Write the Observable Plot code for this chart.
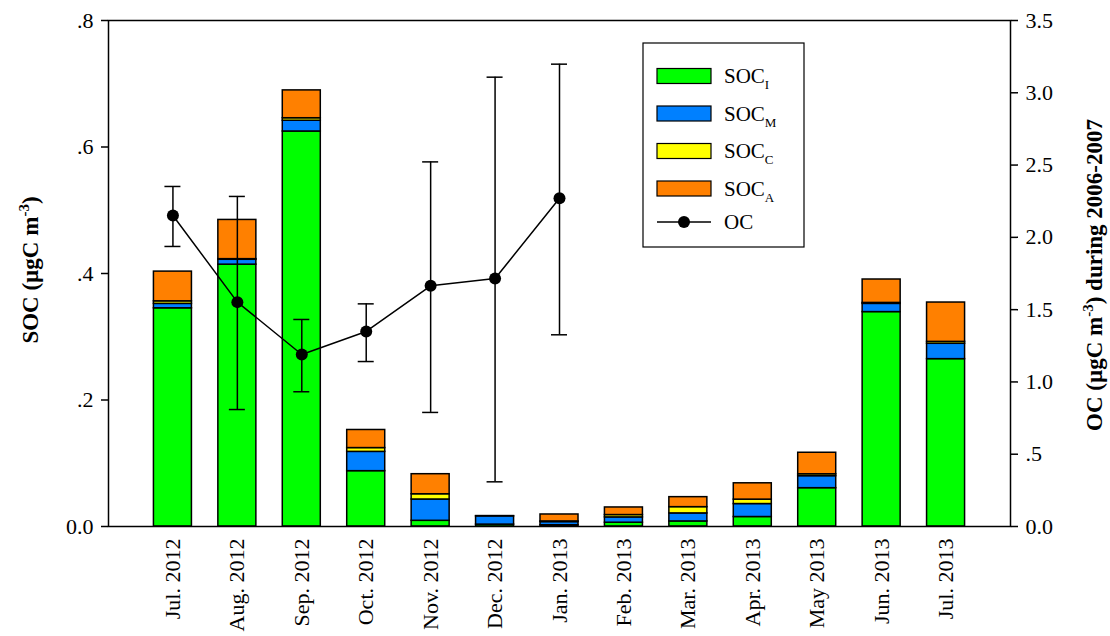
<!DOCTYPE html>
<html><head><meta charset="utf-8">
<script src="https://cdn.jsdelivr.net/npm/d3@7"></script>
<script src="https://cdn.jsdelivr.net/npm/@observablehq/plot@0.6"></script>
<style>body{margin:0;background:#fff} #chart svg{display:block}</style>
</head><body><div id="chart"></div>
<script>
const months = ["Jul. 2012","Aug. 2012","Sep. 2012","Oct. 2012","Nov. 2012","Dec. 2012","Jan. 2013","Feb. 2013","Mar. 2013","Apr. 2013","May 2013","Jun. 2013","Jul. 2013"];
const socI = [0.345, 0.414, 0.6245, 0.0875, 0.009, 0.003, 0.002, 0.006, 0.008, 0.015, 0.0606, 0.339, 0.2646];
const socM = [0.007, 0.0077, 0.017, 0.0305, 0.0337, 0.013, 0.005, 0.0084, 0.0127, 0.0205, 0.019, 0.013, 0.0243];
const socC = [0.004, 0.001, 0.004, 0.006, 0.0083, 0.0005, 0.001, 0.0037, 0.0099, 0.007, 0.003, 0.0015, 0.003];
const socA = [0.047, 0.062, 0.044, 0.0286, 0.0317, 0.0, 0.011, 0.012, 0.0158, 0.0258, 0.034, 0.037, 0.0622];
const comps = ["SOC_I","SOC_M","SOC_C","SOC_A"];
const compColors = ["#00ff00","#0080ff","#ffff00","#ff8000"];
const ocMonths = ["Jul. 2012","Aug. 2012","Sep. 2012","Oct. 2012","Nov. 2012","Dec. 2012","Jan. 2013"];
const oc   = [2.151, 1.552, 1.190, 1.349, 1.665, 1.715, 2.271];
const ocHi = [2.352, 2.283, 1.432, 1.540, 2.522, 3.108, 3.198];
const ocLo = [1.937, 0.809, 0.932, 1.141, 0.789, 0.309, 1.326];
const leftTicks = [0, 0.2, 0.4, 0.6, 0.8];
const rightTicks = [0, 0.5, 1.0, 1.5, 2.0, 2.5, 3.0, 3.5];

const k = 0.8 / 3.5; // right-axis units -> left-axis units
const series = [socI, socM, socC, socA];
const barRows = [];
months.forEach((m, i) => series.forEach((s, j) => barRows.push({month: m, comp: comps[j], value: s[i]})));
const ocRows = ocMonths.map((m, i) => ({month: m, oc: oc[i], hi: ocHi[i], lo: ocLo[i]}));
const fmt = d => { const v = Math.round(d * 10) / 10; return v === 0 ? "0.0" : d3.format(".1f")(v).replace(/^0\./, "."); };

const plot = Plot.plot({
  width: 1110, height: 636,
  marginLeft: 108, marginRight: 100, marginTop: 20, marginBottom: 110,
  style: {fontFamily: "Liberation Serif", fontSize: "22px", color: "#000", background: "#fff", overflow: "visible"},
  x: {domain: months, paddingInner: 0.41, paddingOuter: 0.705, round: false, label: null},
  y: {domain: [0, 0.8], label: null},
  color: {domain: comps, range: compColors},
  marks: [
    Plot.barY(barRows, {x: "month", y: "value", fill: "comp", stroke: "#000", strokeWidth: 1.5}),
    Plot.ruleX(ocRows, {x: "month", y1: d => d.lo * k, y2: d => d.hi * k, stroke: "#000", strokeWidth: 1.5}),
    Plot.tickY(ocRows, {x: "month", y: d => d.hi * k, insetLeft: 11, insetRight: 11, stroke: "#000", strokeWidth: 1.5}),
    Plot.tickY(ocRows, {x: "month", y: d => d.lo * k, insetLeft: 11, insetRight: 11, stroke: "#000", strokeWidth: 1.5}),
    Plot.line(ocRows, {x: "month", y: d => d.oc * k, stroke: "#000", strokeWidth: 1.5}),
    Plot.dot(ocRows, {x: "month", y: d => d.oc * k, r: 6, fill: "#000"}),
    Plot.frame({stroke: "#000", strokeWidth: 1.5}),
    Plot.axisY(leftTicks, {anchor: "left", tickSize: 7, tickPadding: 8, tickFormat: fmt, label: null, strokeWidth: 1.5}),
    Plot.axisY(rightTicks.map(v => v * k), {anchor: "right", tickSize: 7, tickPadding: 8, tickFormat: d => fmt(d / k), label: null, strokeWidth: 1.5}),
    Plot.axisX({tickRotate: -90, tickSize: 0, tickPadding: 12, label: null})
  ]
});

const svg = d3.select(plot);
// Axis titles
const t1 = svg.append("text").attr("transform", "translate(38,270) rotate(-90)")
  .attr("text-anchor", "middle").attr("font-weight", "bold").attr("font-size", 23).attr("fill", "#000");
t1.append("tspan").text("SOC (\u00b5gC m");
t1.append("tspan").attr("dy", -9).attr("font-size", 15).text("-3");
t1.append("tspan").attr("dy", 9).text(")");
const t2 = svg.append("text").attr("transform", "translate(1102,275) rotate(-90)")
  .attr("text-anchor", "middle").attr("font-weight", "bold").attr("font-size", 23).attr("fill", "#000");
t2.append("tspan").text("OC (\u00b5gC m");
t2.append("tspan").attr("dy", -9).attr("font-size", 15).text("-3");
t2.append("tspan").attr("dy", 9).text(") during 2006-2007");

// Legend
const lg = svg.append("g").attr("font-family", "Liberation Serif").attr("fill", "#000").attr("text-anchor", "start");
lg.append("rect").attr("x", 643).attr("y", 43).attr("width", 161).attr("height", 204)
  .attr("fill", "#fff").attr("stroke", "#000").attr("stroke-width", 1.2);
const subs = ["I", "M", "C", "A"];
const rowY = [76, 113.5, 151, 188.5, 222];
comps.forEach((c, i) => {
  lg.append("rect").attr("x", 657).attr("y", rowY[i] - 7.5).attr("width", 54).attr("height", 15)
    .attr("fill", compColors[i]).attr("stroke", "#000").attr("stroke-width", 1.2);
  const tx = lg.append("text").attr("x", 724).attr("y", rowY[i] + 7).attr("font-size", 21).attr("text-anchor", "start");
  tx.append("tspan").text("SOC");
  tx.append("tspan").attr("dy", 6).attr("font-size", 13).text(subs[i]);
});
lg.append("line").attr("x1", 657).attr("x2", 711).attr("y1", rowY[4]).attr("y2", rowY[4]).attr("stroke", "#000").attr("stroke-width", 1.5);
lg.append("circle").attr("cx", 684).attr("cy", rowY[4]).attr("r", 6).attr("fill", "#000");
lg.append("text").attr("x", 724).attr("y", rowY[4] + 7).attr("font-size", 21).attr("text-anchor", "start").text("OC");

document.getElementById("chart").appendChild(plot);
</script></body></html>
